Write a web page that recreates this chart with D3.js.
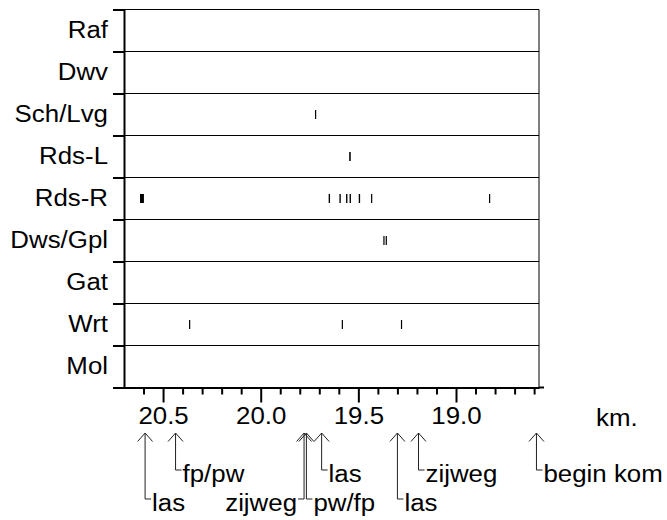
<!DOCTYPE html>
<html>
<head>
<meta charset="utf-8">
<script src="https://cdn.jsdelivr.net/npm/d3@7"></script>
<style>
  body { margin: 0; background: #fff; }
  svg text { font-family: "Liberation Sans", Arial, sans-serif; fill: #000; }
</style>
</head>
<body>
<svg id="chart" width="667" height="520"></svg>
<script>
// rows of the inspection chart (top to bottom)
const rows = ["Raf", "Dwv", "Sch/Lvg", "Rds-L", "Rds-R", "Dws/Gpl", "Gat", "Wrt", "Mol"]

// damage spots per row, as [from km, to km]
const raf = []
const dwv = []
const schLvg = [[19.722, 19.722]]
const rdsL = [[19.547, 19.539]]
const rdsR = [[20.618, 20.598], [19.652, 19.645], [19.597, 19.590],
              [19.563, 19.556], [19.545, 19.538], [19.498, 19.491],
              [19.435, 19.435], [18.831, 18.831]]
const dwsGpl = [[19.372, 19.372], [19.360, 19.360]]
const gat = []
const wrt = [[20.367, 20.367], [19.585, 19.585], [19.282, 19.282]]
const mol = []
const spots = [raf, dwv, schLvg, rdsL, rdsR, dwsGpl, gat, wrt, mol]

// km axis
const kmDomain = [20.7, 18.575]
const majorTicks = [20.5, 20.0, 19.5, 19.0]
const minorTicks = d3.range(206, 185, -1).map(d => d / 10).filter(d => majorTicks.indexOf(d) < 0)

// markers below the axis
const noteText = ["las", "fp/pw", "zijweg", "pw/fp", "las", "las", "zijweg", "begin kom"]
const noteKm   = [20.592, 20.436, 19.778, 19.766, 19.688, 19.300, 19.192, 18.588]
const noteRow  = [2, 1, 2, 2, 1, 2, 1, 1]
const noteSide = ["r", "r", "l", "r", "r", "r", "r", "r"]

const svg = d3.select("#chart")
const plotL = 124, plotR = 539, plotT = 9.5, plotB = 387.5
const fontSize = "23.5px"

// the original lettering is a little wider than Arial
function stretch(sel) {
    sel.each(function() {
        let w = this.getComputedTextLength()
        d3.select(this).attr("textLength", w * 1.1).attr("lengthAdjust", "spacingAndGlyphs")
    })
}

const x = d3.scaleLinear().domain(kmDomain).range([plotL, plotR])
const y = d3.scaleBand().domain(rows).range([plotT, plotB])
const yEdge = d3.scaleLinear().domain([0, rows.length]).range([plotT, plotB])

// row separators + frame
svg.append("g").selectAll("line")
    .data(d3.range(rows.length))
    .join("line")
    .attr("x1", plotL).attr("x2", plotR)
    .attr("y1", d => yEdge(d)).attr("y2", d => yEdge(d))
    .attr("stroke", "#000").attr("stroke-width", 1)

svg.append("line")
    .attr("x1", plotR).attr("x2", plotR)
    .attr("y1", plotT).attr("y2", plotB)
    .attr("stroke", "#000").attr("stroke-width", 1)

// spots
spots.forEach(function(list, i) {
    let cy = y(rows[i]) + y.bandwidth() / 2
    svg.append("g").selectAll("rect")
        .data(list)
        .join("rect")
        .attr("x", d => Math.min(x(d[0]), x(d[1])))
        .attr("width", d => Math.max(1.2, Math.abs(x(d[0]) - x(d[1]))))
        .attr("y", cy - 4.5)
        .attr("height", 9)
        .attr("fill", "#000")
})

// left axis: ticks at row edges, labels in the middle of each row
let edgeAxis = svg.append("g")
    .attr("transform", `translate(${plotL},0)`)
    .call(d3.axisLeft(yEdge).tickValues(d3.range(rows.length + 1)).tickSize(11).tickFormat(""))
edgeAxis.selectAll("line, path").attr("stroke", "#000").attr("stroke-width", 2)

let labelAxis = svg.append("g")
    .attr("transform", `translate(${plotL},0)`)
    .call(d3.axisLeft(y).tickSize(0).tickPadding(16))
labelAxis.select(".domain").remove()
labelAxis.selectAll("text").style("font-size", fontSize).attr("fill", "#000").call(stretch)

// bottom axis: minor and major ticks
let minorAxis = svg.append("g")
    .attr("transform", `translate(0,${plotB})`)
    .call(d3.axisBottom(x).tickValues(minorTicks).tickSize(7).tickSizeOuter(0).tickFormat(""))
minorAxis.selectAll("line, path").attr("stroke", "#000").attr("stroke-width", 2)

let majorAxis = svg.append("g")
    .attr("transform", `translate(0,${plotB})`)
    .call(d3.axisBottom(x).tickValues(majorTicks).tickSize(15).tickSizeOuter(0).tickPadding(5).tickFormat(d3.format(".1f")))
majorAxis.select(".domain").remove()
majorAxis.selectAll("line").attr("stroke", "#000").attr("stroke-width", 2)
majorAxis.selectAll("text").style("font-size", fontSize).attr("fill", "#000").call(stretch)

// the axis line runs a bit past the frame
svg.append("line")
    .attr("x1", plotR).attr("x2", plotR + 5)
    .attr("y1", plotB).attr("y2", plotB)
    .attr("stroke", "#000").attr("stroke-width", 2)

svg.append("text")
    .attr("x", 596).attr("y", 426)
    .style("font-size", fontSize)
    .text("km.")
    .call(stretch)

// markers: arrow up to the axis, then a hook to the text
const tipY = 433
const rowY = [0, 470, 499]
let notes = svg.append("g")
noteText.forEach(function(t, i) {
    let nx = x(noteKm[i])
    let cy = rowY[noteRow[i]]
    let dir = noteSide[i] == "l" ? -1 : 1
    notes.append("path")
        .attr("d", `M${nx - 7.5},${tipY + 8.5}L${nx},${tipY}L${nx + 7.5},${tipY + 8.5}`)
        .attr("fill", "none").attr("stroke", "#222").attr("stroke-width", 1)
    notes.append("path")
        .attr("d", `M${nx},${tipY}V${cy}H${nx + dir * 6}`)
        .attr("fill", "none").attr("stroke", "#222").attr("stroke-width", 1)
    notes.append("text")
        .attr("x", nx + dir * 7)
        .attr("y", cy + 12)
        .attr("text-anchor", dir < 0 ? "end" : "start")
        .style("font-size", fontSize)
        .text(t)
        .call(stretch)
})
</script>
</body>
</html>
